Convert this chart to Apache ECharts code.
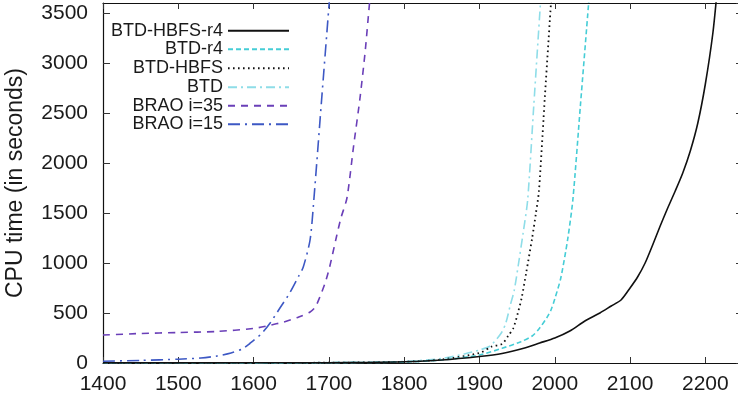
<!DOCTYPE html>
<html>
<head>
<meta charset="utf-8">
<script src="https://cdn.jsdelivr.net/npm/echarts@6/dist/echarts.min.js"></script>
<style>
html,body{margin:0;padding:0;background:#fff;}
#chart{width:738px;height:401px;}
</style>
</head>
<body>
<div id="chart"></div>
<script>
// ---- Data ----
const seriesNames = ['BTD-HBFS-r4', 'BTD-r4', 'BTD-HBFS', 'BTD', 'BRAO i=35', 'BRAO i=15'];

const btdHbfsR4X = [1400,1500,1600,1700,1750,1800,1850,1900,1930,1960,1980,2000,2020,2040,2060,2075,2088,2100,2110,2120,2130,2140,2150,2160,2170,2180,2190,2200,2210,2216];
const btdHbfsR4Y = [1,1,2,3,5,12,30,65,95,150,200,250,320,420,500,570,630,750,860,1000,1180,1370,1550,1720,1900,2120,2400,2790,3300,3750];

const btdR4X = [1400,1600,1700,1800,1850,1900,1930,1955,1970,1980,1990,1995,2000,2008,2017,2024,2034,2045,2048];
const btdR4Y = [0,1,3,10,30,80,147,213,270,350,460,530,640,850,1230,1630,2570,3600,3900];

const btdHbfsX = [1400,1600,1700,1800,1850,1900,1916,1930,1938,1945,1951,1956,1962,1970,1975,1979,1987,1996];
const btdHbfsY = [0,1,3,12,35,100,163,190,270,350,500,650,900,1250,1500,1720,2680,3720];

const btdX = [1400,1600,1700,1800,1850,1880,1900,1914,1929,1935,1941,1946,1952,1958,1964,1972,1981,1984];
const btdY = [0,1,4,15,45,90,130,170,300,400,580,720,1000,1300,1630,2560,3600,3950];

const brao35X = [1400,1450,1500,1550,1600,1620,1640,1660,1675,1682,1688,1695,1701,1710,1716,1724,1733,1741,1748,1754,1758];
const brao35Y = [280,295,305,315,345,375,410,460,510,560,660,800,960,1260,1450,1650,2180,2630,3100,3600,3900];

const brao15X = [1400,1450,1500,1530,1550,1570,1585,1595,1610,1622,1635,1648,1660,1666,1675,1680,1690,1700,1704];
const brao15Y = [18,26,38,50,68,100,140,195,290,400,550,700,870,960,1230,1630,2600,3560,3950];

const xTicks = [1400,1500,1600,1700,1800,1900,2000,2100,2200];
const yTicks = [0,500,1000,1500,2000,2500,3000,3500];

// ---- Styles ----
const styles = [
  {color:'#111111', type:'solid', width:1.6},
  {color:'#45cdd6', type:[5,3], width:1.6},
  {color:'#111111', type:[1.6,3.4], width:1.8},
  {color:'#8edde8', type:[9,4,2,4], width:1.6},
  {color:'#6a3fb8', type:[7,6], width:1.6},
  {color:'#3d58c4', type:[12,5,2,5], width:1.6}
];
const xsList = [btdHbfsR4X, btdR4X, btdHbfsX, btdX, brao35X, brao15X];
const ysList = [btdHbfsR4Y, btdR4Y, btdHbfsY, btdY, brao35Y, brao15Y];

const FONT = 'Liberation Sans, Arial, sans-serif';

const series = seriesNames.map((name, i) => ({
  name: name,
  type: 'line',
  xAxisIndex: 0,
  yAxisIndex: 0,
  symbol: 'none',
  showSymbol: false,
  smooth: 0.25,
  clip: true,
  animation: false,
  itemStyle: {color: styles[i].color},
  lineStyle: {color: styles[i].color, type: styles[i].type, width: styles[i].width},
  data: xsList[i].map((x, k) => [x, ysList[i][k]]),
  z: 10 - i
}));

const legendCenters = [30.7, 49.3, 68.3, 87.3, 105.7, 124.3];
const legends = seriesNames.map((name, i) => ({
  data: [name],
  right: 448,
  top: legendCenters[i] - 9,
  align: 'right',
  orient: 'horizontal',
  itemWidth: 61,
  itemHeight: 14,
  padding: 0,
  selectedMode: false,
  itemStyle: {opacity: 0, color: 'rgba(0,0,0,0)', borderWidth: 0},
  textStyle: {fontFamily: FONT, fontSize: 18, color: '#1a1a1a'}
}));

const tickLabelFmt = (ticks) => (v) => ticks.indexOf(v) >= 0 ? String(v) : '';

const axisLineStyle = {color: '#111', width: 1.2};

const option = {
  animation: false,
  backgroundColor: '#ffffff',
  grid: {left: 103, top: 3, bottom: 38, right: -5, containLabel: false, outerBoundsMode: 'none'},
  legend: legends,
  xAxis: [
    {
      type: 'value', position: 'bottom', min: 1400, max: 2250, interval: 100,
      axisLine: {show: true, lineStyle: axisLineStyle},
      axisTick: {show: true, inside: true, length: 6, lineStyle: {color: '#333', width: 1}},
      axisLabel: {show: true, margin: 11, fontFamily: FONT, fontSize: 21, color: '#1a1a1a',
                  showMaxLabel: false, hideOverlap: false, formatter: tickLabelFmt(xTicks)},
      splitLine: {show: false}
    },
    {
      type: 'value', position: 'top', min: 1400, max: 2250, interval: 100,
      axisLine: {show: true, onZero: false, lineStyle: axisLineStyle},
      axisTick: {show: true, inside: true, length: 6, lineStyle: {color: '#333', width: 1}},
      axisLabel: {show: false},
      splitLine: {show: false}
    }
  ],
  yAxis: [
    {
      type: 'value', position: 'left', min: 0, max: 3600, interval: 500,
      name: 'CPU time (in seconds)', nameLocation: 'middle', nameRotate: 90, nameGap: 76,
      nameTextStyle: {fontFamily: FONT, fontSize: 23, color: '#1a1a1a'},
      axisLine: {show: true, lineStyle: axisLineStyle},
      axisTick: {show: true, inside: true, length: 7, lineStyle: {color: '#333', width: 1}},
      axisLabel: {show: true, margin: 15, fontFamily: FONT, fontSize: 21, color: '#1a1a1a',
                  showMaxLabel: false, hideOverlap: false, formatter: tickLabelFmt(yTicks)},
      splitLine: {show: false}
    },
    {
      type: 'value', position: 'right', min: 0, max: 3600, interval: 500,
      axisLine: {show: true, onZero: false, lineStyle: axisLineStyle},
      axisTick: {show: true, inside: true, length: 7, lineStyle: {color: '#333', width: 1}},
      axisLabel: {show: false},
      splitLine: {show: false}
    }
  ],
  series: series
};

const chart = echarts.init(document.getElementById('chart'), null, {renderer: 'canvas'});
chart.setOption(option);
</script>
</body>
</html>
